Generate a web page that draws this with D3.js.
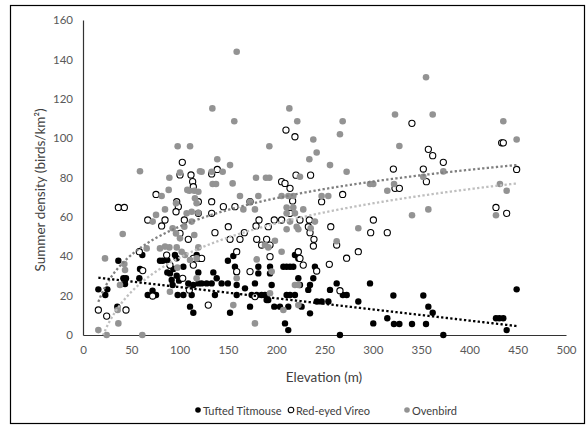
<!DOCTYPE html>
<html>
<head>
<meta charset="utf-8">
<script src="https://cdn.jsdelivr.net/npm/d3@7"></script>
<style>
  html, body { margin: 0; padding: 0; background: #fff; }
  svg { display: block; }
  text { font-family: Lato, "Open Sans", sans-serif; }
</style>
</head>
<body>
<div id="chart"></div>
<script>
// ---------- data (elevation m, summer density birds/km²) ----------
const titmouse = [
  [15.9,23.2],[25.2,23.2],[23.1,20.3],[36.6,37.7],[35.5,14.4],[41.8,28.8],[44.5,28.8],[43.5,25.9],
  [61.4,40.6],[59,33.5],[58.3,28.8],[67,20.3],[72,22.5],[75.6,20.3],[79.7,37.7],[82.5,37.7],
  [87.3,38],[90,35.2],[87.3,31.8],[90,31.3],[93.5,33.5],[91.8,27.9],[92.8,25.4],[95.2,40.6],
  [97,39],[97,30.1],[99.4,27.6],[98,20.3],[103.9,34.7],[103.9,20.3],[109,26.2],[110.8,14.4],
  [114.2,11.3],[112.5,20.3],[114.2,25.4],[117.7,40.6],[119.4,31.8],[119.4,26.2],[122.8,26.2],
  [128,26.2],[133.2,26.2],[134.9,31.8],[136.6,20.3],[138.4,28.8],[143.5,26.2],[150,37.7],[150,26.2],
  [152.2,11.3],[155.6,40.1],[157.3,34.7],[159,31.8],[159.1,25.4],[159.1,20.3],[167.7,23.7],
  [172.9,14.4],[174.6,20.3],[178,26.2],[181.5,34.7],[181.5,31.3],[179.8,20.3],[184.9,20.3],
  [188.4,20.3],[190.1,17.8],[191.8,17.8],[193.6,34.7],[193.6,31.3],[195.3,25.4],[198,14.4],
  [203.9,14.4],[207.4,34.7],[210.8,34.7],[214.3,34.7],[217.7,34.7],[219.4,40.6],[222.9,38.9],
  [222.9,28.8],[224.6,25.4],[219.4,20.3],[214.3,20.3],[210.8,20.3],[212.5,14.4],[226.3,14.4],
  [209.1,5.9],[212.5,2.5],[235,25.4],[233.2,22.9],[235,11],[238.4,28.8],[240.1,34.7],[242,17],
  [247,17],[254,17],[255.7,22.9],[262.6,26.2],[266,0],[269,20.3],[273,20.3],[285,17],[297.1,26.2],
  [300.5,5.9],[315,8.5],[321.3,20.1],[321.9,5.6],[327.5,5.6],[340.6,5.6],[352.3,20.1],[355.1,5.6],
  [357.5,14.4],[362,11.3],[373,0],[427.5,8.5],[431,8.5],[435.1,8.5],[438.6,2.5],[448.9,23.2]
];
const vireo = [
  [15.9,12.7],[24.5,9.6],[44.5,12.7],[36.6,64.8],[42.8,64.8],[58.3,42.3],[61.8,32.7],[75.6,71.4],
  [67,58.4],[81.4,55.4],[84.9,58.4],[72.1,19.8],[100.4,81.3],[102.8,87.7],[111.8,81.3],[113.5,77.9],
  [114.2,75.3],[97,67.7],[98.7,65.2],[96.3,62.6],[104.9,58.4],[100.4,51.6],[109,48.6],[90,35.5],
  [86.6,40.6],[103.2,28.8],[114.2,35.5],[110.1,22.9],[133.2,81.8],[139,84.1],[205.6,77.9],[209.1,77],
  [210.1,104.1],[219.4,100.7],[220.5,81.2],[235.6,81.2],[247,67.7],[268.8,71.4],[119.4,67.7],
  [133.2,67.7],[133.2,61.8],[145.3,65.2],[157.3,65.2],[172.9,67.7],[119.4,61.8],[150.4,55],
  [136.6,52],[152.2,48.6],[162.5,48.6],[167,52],[179.8,48.6],[182.2,58.4],[179.1,55.4],[191.8,55],
  [190.1,48.6],[184.9,45.7],[193.6,45.7],[198,58.4],[205.6,58.4],[214.3,61.8],[214.3,74.5],[217,68.1],
  [224.6,58.4],[234.3,58.4],[233.3,55],[235,52],[239.1,48.6],[238.5,45.2],[256.5,55],[272.9,39],
  [285,42.3],[297.8,52],[300.6,58.4],[315,52],[262.6,45.7],[255,35.9],[241.9,32.5],[114.2,38.9],
  [119.4,38.9],[122.8,38.9],[159.1,42.3],[159.1,32.2],[172.9,32.2],[178,19.5],[193.6,39.8],
  [222.9,42.3],[224.6,38.9],[228,35.5],[266,22.5],[129.7,15.2],[321.3,84.3],[323,74.5],[327.5,74.5],
  [340.5,107.5],[352.3,84.3],[355.5,77.9],[357.5,94.3],[362,91.1],[373,87.7],[433.4,97.6],
  [435.1,97.6],[448.9,84.1],[427.5,64.8],[438.6,61.8]
];
const ovenbird = [
  [98,95.9],[110.8,95.9],[59,83.2],[100.4,82.5],[121.1,83.2],[89.4,79.9],[88.7,73.7],[108,73.7],
  [81.4,70.6],[110.1,73.3],[115.2,73.3],[119.4,72.8],[96.3,66.9],[117.6,66.9],[115.9,69.4],[84.9,63.8],
  [75.6,61],[72.1,57.6],[107.3,61.8],[112.5,62.6],[119.4,62.1],[104.9,55],[112.5,57.6],[115.2,50.8],
  [92.8,54.2],[96.3,51.6],[100.4,49.1],[41.1,51.3],[65.9,44],[89.4,44.5],[97,44.5],[84.9,44.9],
  [105.6,40.6],[110.8,38.1],[117.6,38.9],[22.8,38.9],[42.8,36.1],[43.5,33],[38.3,25.4],[79.7,44],
  [90,22],[117.6,28.8],[97.7,34.2],[35.9,12.7],[36.6,5.9],[15.9,2.5],[24.5,0],[61.4,0],
  [159.1,143.9],[133.9,115.1],[213.6,115.1],[156.6,108.6],[221.8,108.6],[268.8,108.6],[266,102],
  [238.4,99.3],[241.9,92.7],[192.9,95.9],[234.3,89.3],[255.7,86.3],[272.9,82.9],[139,89.3],
  [152.2,86.3],[122.8,82.9],[133.2,82.9],[144.6,82.9],[179.1,79.9],[189.4,79.9],[192.9,79.9],
  [224.6,80.4],[134.2,76.7],[137.7,76.7],[154.9,77],[162.5,70.6],[181.5,70.6],[205.6,70.6],
  [212.6,70.6],[217.7,70.6],[247,70.6],[253.9,70.6],[297.1,76.7],[300.5,76.7],[172.9,67.7],
  [166,63.8],[178,63.8],[210.8,64.8],[217.7,64.8],[228,63.8],[219.4,61.8],[210.8,61.8],[214.3,57.6],
  [240.1,57.6],[235.7,54.2],[221.2,55],[222.9,53.7],[210.8,53.7],[285,54.2],[262.6,47.6],[198.7,47.9],
  [188.4,45.7],[191.8,44.5],[102.1,42.3],[205.6,42.3],[119.4,44.5],[159.1,28.8],[155.6,15.2],
  [179.8,38.4],[195.3,32.2],[193.6,21.2],[219.4,25.4],[222.9,25.4],[207.4,12.7],[222.9,15.2],
  [178,5.9],[355.1,130.9],[323,112],[362,112],[327.5,96],[373,83.1],[352.3,80.3],[322,76.7],
  [315,73.3],[435.1,108.6],[448.9,99.3],[431.6,76.7],[438.6,73.3],[340.6,60.8],[357.5,63.8],
  [427.5,60.8]
];
// trendline coefficients
const titmouseTrend = [30.0, -0.0567];   // linear: a + b*x
const vireoTrend    = [-76.3, 25.1];     // log: a + b*ln(x)
const ovenbirdTrend = [-40.7, 20.8];     // log: a + b*ln(x)
const xTicks = [0,50,100,150,200,250,300,350,400,450,500];
const yTicks = [0,20,40,60,80,100,120,140,160];
const seriesNames = ["Tufted Titmouse","Red-eyed Vireo","Ovenbird"];

// ---------- drawing ----------
const W = 587, H = 427;
const svg = d3.select("#chart").append("svg").attr("width", W).attr("height", H);

svg.append("rect").attr("x", 10.5).attr("y", 5.5).attr("width", 574).attr("height", 418)
  .attr("fill", "#fff").attr("stroke", "#000").attr("stroke-width", 1.2);

const x = d3.scaleLinear().domain([0, 500]).range([83, 566]);
const y = d3.scaleLinear().domain([0, 160]).range([335, 20]);

svg.append("defs").append("clipPath").attr("id", "plotclip")
  .append("rect").attr("x", 83).attr("y", 20).attr("width", 483).attr("height", 315);

const yAxis = svg.append("g").attr("transform", "translate(83,0)")
  .call(d3.axisLeft(y).tickValues(yTicks).tickSize(0).tickPadding(10));
const xAxis = svg.append("g").attr("transform", "translate(0,335)")
  .call(d3.axisBottom(x).tickValues(xTicks).tickSize(0).tickPadding(11));
[yAxis, xAxis].forEach(g => {
  g.select(".domain").attr("stroke", "#333").attr("stroke-width", 1.2);
  g.selectAll("text").attr("fill", "#595959").attr("font-size", 11.5)
    .style("font-family", "Lato, sans-serif");
});

svg.append("text").attr("transform", "translate(40,190) rotate(-90)")
  .attr("text-anchor", "middle").attr("dominant-baseline", "central")
  .attr("font-size", 13.5).attr("fill", "#404040").text("Summer density (birds/km²)");
svg.append("text").attr("x", 324).attr("y", 377)
  .attr("text-anchor", "middle").attr("dominant-baseline", "central")
  .attr("font-size", 13.5).attr("fill", "#404040").text("Elevation (m)");

const plot = svg.append("g");
plot.selectAll("circle.tt").data(titmouse).join("circle").attr("class", "tt")
  .attr("cx", d => x(d[0])).attr("cy", d => y(d[1])).attr("r", 3.2).attr("fill", "#000");
plot.selectAll("circle.rv").data(vireo).join("circle").attr("class", "rv")
  .attr("cx", d => x(d[0])).attr("cy", d => y(d[1])).attr("r", 3.1)
  .attr("fill", "#fff").attr("stroke", "#000").attr("stroke-width", 1.1);
plot.selectAll("circle.ov").data(ovenbird).join("circle").attr("class", "ov")
  .attr("cx", d => x(d[0])).attr("cy", d => y(d[1])).attr("r", 3.3).attr("fill", "#939393");

// trendlines
function trendPts(data, f) {
  const ext = d3.extent(data, d => d[0]);
  const pts = [];
  for (let v = ext[0]; v <= ext[1]; v += 1) pts.push([v, f(v)]);
  pts.push([ext[1], f(ext[1])]);
  return pts;
}
const line = d3.line().x(d => x(d[0])).y(d => y(d[1]));
const tg = svg.append("g").attr("clip-path", "url(#plotclip)");
tg.append("path").attr("d", line(trendPts(vireo, v => vireoTrend[0] + vireoTrend[1] * Math.log(v))))
  .attr("fill", "none").attr("stroke", "#bfbfbf").attr("stroke-width", 2.3).attr("stroke-dasharray", "2.3,2.3");
tg.append("path").attr("d", line(trendPts(ovenbird, v => ovenbirdTrend[0] + ovenbirdTrend[1] * Math.log(v))))
  .attr("fill", "none").attr("stroke", "#7f7f7f").attr("stroke-width", 2.3).attr("stroke-dasharray", "2.3,2.3");
tg.append("path").attr("d", line(trendPts(titmouse, v => titmouseTrend[0] + titmouseTrend[1] * v)))
  .attr("fill", "none").attr("stroke", "#000").attr("stroke-width", 2.3).attr("stroke-dasharray", "2.3,2.3");

// legend
const legend = svg.append("g").attr("transform", "translate(0,410)");
const legItems = [
  {name: seriesNames[0], cx: 198, fill: "#000", stroke: "none"},
  {name: seriesNames[1], cx: 291, fill: "#fff", stroke: "#000"},
  {name: seriesNames[2], cx: 407, fill: "#939393", stroke: "none"}
];
legItems.forEach(it => {
  legend.append("circle").attr("cx", it.cx).attr("cy", 0).attr("r", 2.8)
    .attr("fill", it.fill).attr("stroke", it.stroke).attr("stroke-width", 1.1);
  legend.append("text").attr("x", it.cx + 5).attr("y", 0).attr("dominant-baseline", "central")
    .attr("font-size", 11).attr("fill", "#404040").text(it.name);
});
</script>
</body>
</html>
